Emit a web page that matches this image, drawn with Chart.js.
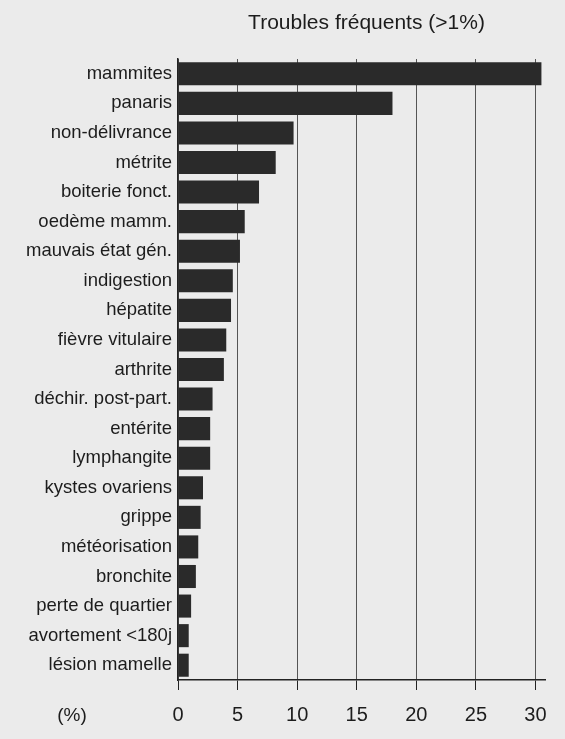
<!DOCTYPE html>
<html>
<head>
<meta charset="utf-8">
<script src="https://cdn.jsdelivr.net/npm/chart.js@4"></script>
<style>
  html, body { margin: 0; padding: 0; background: #ebebeb; }
  #wrap { width: 565px; height: 739px; }
</style>
</head>
<body>
<div id="wrap"><canvas id="troubles_chart" width="565" height="739"></canvas></div>
<script>
// data
const troubles = [
    "mammites", "panaris", "non-délivrance", "métrite", "boiterie fonct.",
    "oedème mamm.", "mauvais état gén.", "indigestion", "hépatite",
    "fièvre vitulaire", "arthrite", "déchir. post-part.", "entérite",
    "lymphangite", "kystes ovariens", "grippe", "météorisation",
    "bronchite", "perte de quartier", "avortement <180j", "lésion mamelle"
];
const percents = [30.5, 18.0, 9.7, 8.2, 6.8, 5.6, 5.2, 4.6, 4.45, 4.05, 3.85,
    2.9, 2.7, 2.7, 2.1, 1.9, 1.7, 1.5, 1.1, 0.9, 0.9];
const xTicks = [0, 5, 10, 15, 20, 25, 30];

const titleText = "Troubles fréquents (>1%)";
const unitText = "(%)";

// title and unit label drawn on the canvas
const extraText = {
    id: 'extraText',
    afterDraw(chart) {
        const ctx = chart.ctx;
        const area = chart.chartArea;
        ctx.save();
        ctx.fillStyle = '#1c1c1c';
        ctx.textBaseline = 'middle';
        ctx.textAlign = 'center';
        ctx.font = '21px "Liberation Sans", Arial, sans-serif';
        ctx.fillText(titleText, (area.left + area.right) / 2 + 5, 23);
        ctx.font = '19px "Liberation Sans", Arial, sans-serif';
        ctx.fillText(unitText, 72, 716);
        ctx.restore();
    }
};

const ctx = document.getElementById('troubles_chart').getContext('2d');
const myChart = new Chart(ctx, {
    type: 'bar',
    data: {
        labels: troubles,
        datasets: [{
            label: 'Troubles',
            data: percents,
            backgroundColor: '#2a2a2a',
            borderWidth: 0,
            barPercentage: 0.78,
            categoryPercentage: 1
        }]
    },
    options: {
        indexAxis: 'y',
        responsive: false,
        animation: false,
        layout: { padding: { top: 59, right: 20, left: 0, bottom: 0 } },
        plugins: {
            legend: { display: false },
            tooltip: { enabled: false }
        },
        scales: {
            x: {
                min: 0,
                max: 30.8,
                afterFit(scale) { scale.height = 59; },
                afterBuildTicks(scale) {
                    scale.ticks = xTicks.map(v => ({ value: v }));
                },
                ticks: {
                    color: '#1c1c1c',
                    padding: 13,
                    font: { family: '"Liberation Sans", Arial, sans-serif', size: 20 }
                },
                grid: {
                    color: '#555',
                    lineWidth: 1,
                    tickLength: 10,
                    tickColor: '#222'
                },
                border: { display: true, color: '#222', width: 1.5 }
            },
            y: {
                afterFit(scale) { scale.width = 178; },
                ticks: {
                    color: '#1c1c1c',
                    padding: 6,
                    font: { family: '"Liberation Sans", Arial, sans-serif', size: 18.5 }
                },
                grid: { display: false, drawTicks: false },
                border: { display: true, color: '#222', width: 1.5 }
            }
        }
    },
    plugins: [extraText]
});
</script>
</body>
</html>
